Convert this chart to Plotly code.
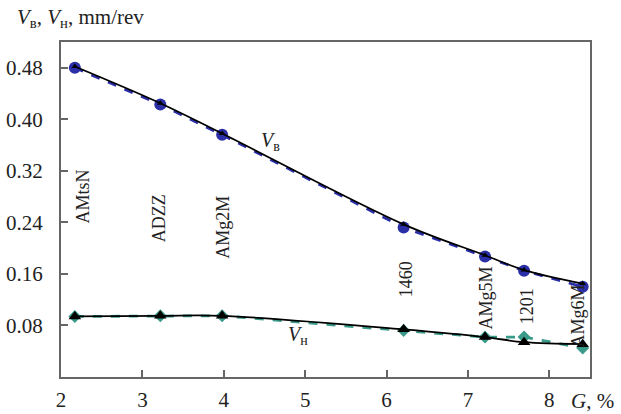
import plotly.graph_objects as go

G = [2.17, 3.22, 3.98, 6.21, 7.21, 7.69, 8.41]
vb_calc = [0.482, 0.425, 0.378, 0.237, 0.189, 0.166, 0.145]
vb_exp = [0.480, 0.423, 0.376, 0.232, 0.187, 0.165, 0.140]
vh_calc = [0.094, 0.095, 0.095, 0.074, 0.062, 0.054, 0.051]
vh_exp = [0.094, 0.095, 0.095, 0.072, 0.062, 0.062, 0.045]

alloys = ["AMtsN", "ADZZ", "AMg2M", "1460", "AMg5M", "1201", "AMg6M"]
alloy_x = [2.27, 3.2, 3.98, 6.24, 7.22, 7.72, 8.35]
alloy_y = [0.280, 0.246, 0.232, 0.152, 0.123, 0.109, 0.095]

xticks = [2, 3, 4, 5, 6, 7, 8]
yticks = [0.08, 0.16, 0.24, 0.32, 0.40, 0.48]

FONT = "Liberation Serif"
TXT = "#222"
BLUE = "#2a2fa8"
TEAL = "#3a9a8a"

fig = go.Figure()
fig.add_trace(go.Scatter(x=G, y=vb_exp, mode="lines+markers",
                         line=dict(color=BLUE, width=2.8, dash="dash"),
                         marker=dict(symbol="circle", size=12, color=BLUE)))
fig.add_trace(go.Scatter(x=G, y=vb_calc, mode="lines+markers",
                         line=dict(color="black", width=1.8, shape="spline"),
                         marker=dict(symbol="triangle-up", size=6, color="black")))
fig.add_trace(go.Scatter(x=G, y=vh_exp, mode="lines+markers",
                         line=dict(color=TEAL, width=2.8, dash="dash"),
                         marker=dict(symbol="diamond", size=10, color=TEAL)))
fig.add_trace(go.Scatter(x=G, y=vh_calc, mode="lines+markers",
                         line=dict(color="black", width=1.8, shape="spline"),
                         marker=dict(symbol="triangle-up", size=11, color="black")))

for name, ax, ay in zip(alloys, alloy_x, alloy_y):
    fig.add_annotation(x=ax, y=ay, text=name, textangle=-90, showarrow=False,
                       font=dict(family=FONT, size=18, color=TXT))

fig.add_annotation(x=4.57, y=0.366, text="<i>V</i><sub>в</sub>", showarrow=False,
                   font=dict(family=FONT, size=20, color=TXT))
fig.add_annotation(x=4.91, y=0.064, text="<i>V</i><sub>н</sub>", showarrow=False,
                   font=dict(family=FONT, size=20, color=TXT))
fig.add_annotation(xref="paper", yref="paper", x=-0.087, y=1.072, xanchor="left", yanchor="middle",
                   text="<i>V</i><sub>в</sub>, <i>V</i><sub>н</sub>, mm/rev", showarrow=False,
                   font=dict(family=FONT, size=21, color=TXT))
fig.add_annotation(xref="paper", yref="paper", x=1.05, y=-0.072, xanchor="right", yanchor="middle",
                   text="<i>G</i>, %", showarrow=False,
                   font=dict(family=FONT, size=21, color=TXT))

axis_common = dict(showgrid=False, zeroline=False, showline=True, linecolor="#666",
                   linewidth=2, mirror=True, ticks="inside", ticklen=7,
                   tickcolor="#666", tickwidth=2, automargin=False,
                   tickfont=dict(family=FONT, size=21, color=TXT))

fig.update_xaxes(range=[2, 8.5], tickvals=xticks, ticklabelstandoff=3, **axis_common)
fig.update_yaxes(range=[0, 0.52], tickvals=yticks, tickformat=".2f",
                 ticklabelstandoff=12, **axis_common)

fig.update_layout(width=621, height=414, showlegend=False,
                  margin=dict(l=61, r=31, t=42, b=37, autoexpand=False),
                  paper_bgcolor="white", plot_bgcolor="white")

fig.write_html("out.html", config={"displayModeBar": False},
               post_script="document.body.style.margin='0';document.body.style.overflow='hidden';")
